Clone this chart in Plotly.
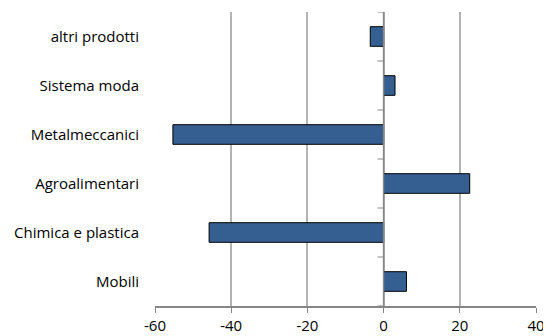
import plotly.graph_objects as go

categories = ["Mobili", "Chimica e plastica", "Agroalimentari", "Metalmeccanici", "Sistema moda", "altri prodotti"]
values = [6.0, -45.8, 22.6, -55.3, 3.0, -3.5]
x_ticks = [-60, -40, -20, 0, 20, 40]

fig = go.Figure()
fig.add_trace(go.Bar(
    y=categories, x=values, orientation="h", width=0.4,
    marker=dict(color="#365F91", line=dict(color="#000000", width=1)),
))

shapes = []
for i in range(len(categories) + 1):
    shapes.append(dict(type="line", xref="x", yref="y", xsizemode="pixel", xanchor=0,
                       x0=-6, x1=0, y0=i - 0.5, y1=i - 0.5,
                       line=dict(color="#868686", width=1)))
shapes.append(dict(type="line", xref="x", yref="y", x0=0, x1=0, y0=-0.5, y1=len(categories) - 0.5,
                   line=dict(color="#868686", width=1.5)))
fig.update_layout(shapes=shapes)

# page body has an 8px default margin, so the figure is 8px smaller
fig.update_layout(
    width=543, height=328,
    margin=dict(l=147, r=15, t=4, b=30, autoexpand=False),
    plot_bgcolor="white", paper_bgcolor="white",
    showlegend=False,
    font=dict(family="Open Sans, Lato, sans-serif", size=15, color="#000000"),
    xaxis=dict(range=[-60, 40], tickvals=x_ticks, ticktext=[str(v) for v in x_ticks],
               showgrid=True, gridcolor="#B3B3B3", gridwidth=1.5, automargin=False,
               zeroline=False, showline=True, linecolor="#868686", linewidth=1.5,
               ticks="outside", ticklen=5, tickcolor="#868686"),
    yaxis=dict(range=[-0.5, len(categories) - 0.5], showgrid=False, zeroline=False,
               showline=False, ticks="", ticklabelstandoff=15, automargin=False),
    bargap=0.6,
)

fig.write_html("out.html")
